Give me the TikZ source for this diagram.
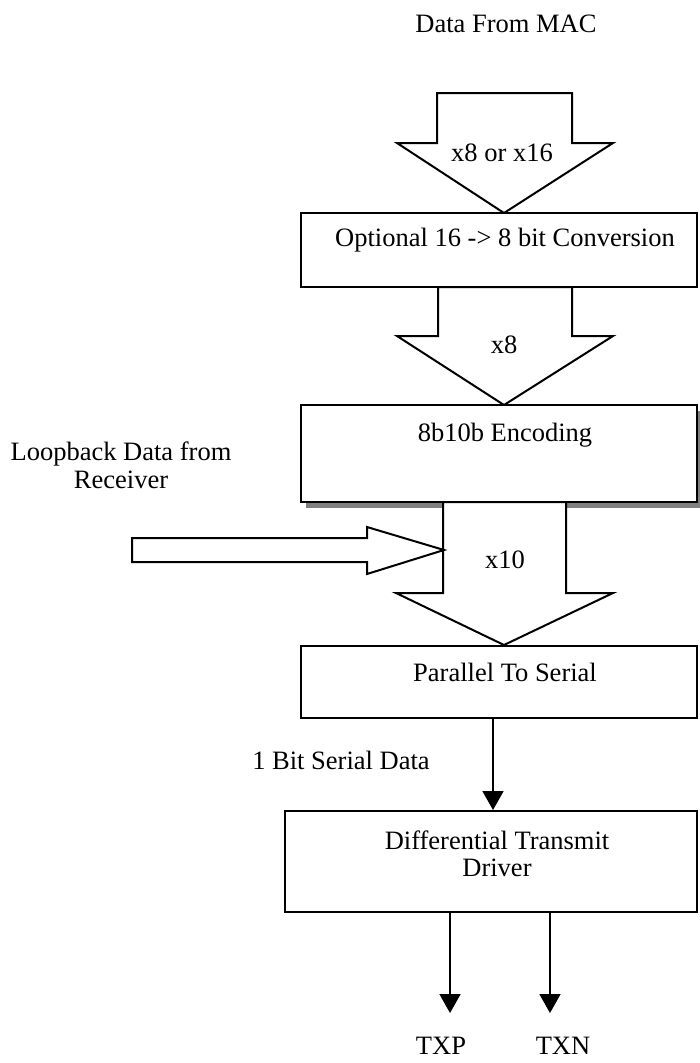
\documentclass[tikz,border=0pt]{standalone}
\usepackage{fontspec}
\setmainfont{Liberation Serif}
\usetikzlibrary{arrows.meta,calc,shadows}

\begin{document}
\begin{tikzpicture}[x=1pt,y=-1pt,line width=2pt,line join=miter,
  font=\fontsize{26.5}{27.5}\selectfont,
  block/.style={draw,fill=white,rectangle,inner sep=0pt},
  lbl/.style={inner sep=0pt,align=center},
  bigarrow/.style={draw,fill=white},
  wire/.style={line width=1.8pt,-{Triangle[width=21pt,length=19pt]}}]
\useasboundingbox (0,0) rectangle (699,1063);

% input from the MAC
\node[lbl] (mac) at (506,24) {Data From MAC};
\draw[bigarrow] (437,93) -- (572,93) -- (572,143) -- (613,143) -- (504,213)
  -- (397,143) -- (437,143) -- cycle;
\node[lbl] (w1) at (502,153) {x8 or x16};

% 16 -> 8 conversion stage
\node[block,minimum width=396pt,minimum height=74pt] (conv) at (499,250) {};
\node[lbl] (convtxt) at (505,240) {Optional 16 -> 8 bit Conversion};
\draw[bigarrow] (438,287) -- (572,287) -- (572,336) -- (613,336) -- (504,405)
  -- (397,336) -- (438,336) -- cycle;
\node[lbl] (w2) at (504,345) {x8};

% 8b10b encoder with drop shadow
\node[block,minimum width=396pt,minimum height=97pt,
  drop shadow={shadow xshift=5pt,shadow yshift=-6pt,fill=gray,opacity=1}]
  (enc) at (499,453.5) {};
\node[lbl] (enctxt) at (505,435) {8b10b Encoding};
\draw[bigarrow] (443,502) -- (566,502) -- (566,593) -- (613,593) -- (504,645)
  -- (396,593) -- (443,593) -- cycle;
\node[lbl] (w3) at (505,560) {x10};

% loopback input
\node[lbl] (loop) at (121,465.5) {Loopback Data from\\Receiver};
\draw[bigarrow] (132,538) -- (367,538) -- (367,527) -- (444,550) -- (367,574)
  -- (367,562) -- (132,562) -- cycle;

% serialiser
\node[block,minimum width=396pt,minimum height=72pt] (ser) at (499,682) {};
\node[lbl] (sertxt) at (505,672) {Parallel To Serial};

% serial link to the driver
\node[block,minimum width=412pt,minimum height=101pt] (drv) at (491,861.5) {};
\node[lbl] (drvtxt) at (497,854) {Differential Transmit\\Driver};
\coordinate (sx) at (493,0);
\draw[wire] (ser.south -| sx) -- (drv.north -| sx);
\node[lbl] (serlbl) at (341,760) {1 Bit Serial Data};

% differential outputs
\coordinate (txpend) at (450,1013);
\coordinate (txnend) at (550,1013);
\draw[wire] (drv.south -| txpend) -- (txpend);
\draw[wire] (drv.south -| txnend) -- (txnend);
\node[lbl] (txp) at (441,1046) {TXP};
\node[lbl] (txn) at (563,1046) {TXN};
\end{tikzpicture}
\end{document}
